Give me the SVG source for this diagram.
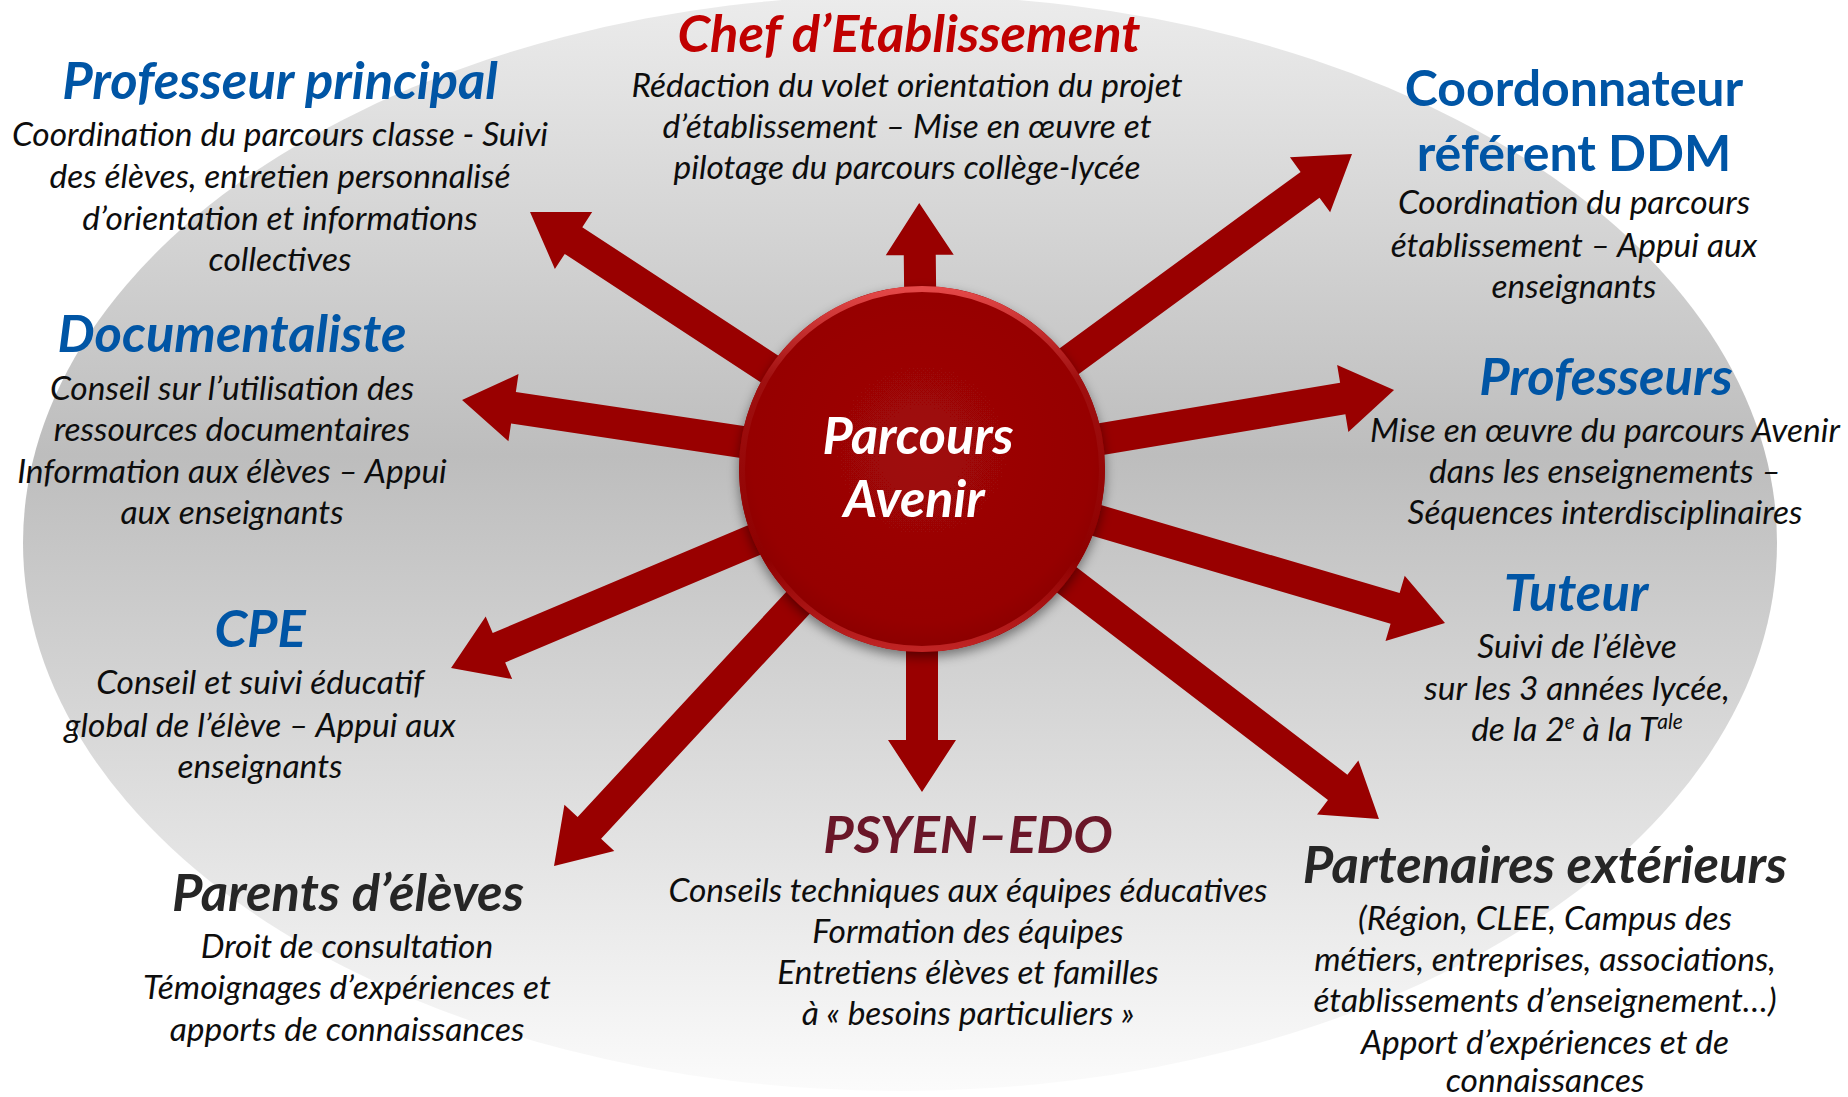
<svg xmlns="http://www.w3.org/2000/svg" width="1848" height="1097" viewBox="0 0 1848 1097">
<defs>
<linearGradient id="bg" x1="0" y1="0" x2="0" y2="1">
<stop offset="0" stop-color="#ececec"/>
<stop offset="0.42" stop-color="#bdbdbd"/>
<stop offset="1" stop-color="#fbfbfb"/>
</linearGradient>
<radialGradient id="disc" cx="0.5" cy="0.45" r="0.55">
<stop offset="0" stop-color="#a00808"/>
<stop offset="0.85" stop-color="#960404"/>
<stop offset="1" stop-color="#8a0000"/>
</radialGradient>
<linearGradient id="rim" x1="0" y1="0" x2="0" y2="1">
<stop offset="0" stop-color="#e44848"/>
<stop offset="0.25" stop-color="#a01010"/>
<stop offset="0.75" stop-color="#8e0000"/>
<stop offset="1" stop-color="#c02424"/>
</linearGradient>
<filter id="sh" x="-20%" y="-20%" width="140%" height="140%">
<feDropShadow dx="0" dy="5" stdDeviation="6" flood-color="#000" flood-opacity="0.45"/>
</filter>
</defs>
<style>
text{font-family:Lato,"Liberation Sans",sans-serif;text-anchor:middle}
.t{font-weight:700;font-style:italic;font-size:52.5px}
.n{font-style:normal;font-size:50px}
.blue{fill:#0055a5}
.red{fill:#c00000}
.dark{fill:#262626}
.wine{fill:#6a1628}
.b{font-style:italic;font-size:33.5px;fill:#0d0d0d}
.arrow{fill:#990000}
.ctr{font-weight:700;font-style:italic;font-size:52px;fill:#ffffff}
</style>
<ellipse cx="900" cy="543" rx="877" ry="548" fill="url(#bg)"/>
<g id="connectors">
<path class="arrow" transform="translate(922,469) rotate(-90.6)" d="M120,-16 H214 V-34 L266,0 L214,34 V16 H120 Z"/>
<path class="arrow" transform="translate(922,469) rotate(-36.22)" d="M120,-16 H481 V-34 L533,0 L481,34 V16 H120 Z"/>
<path class="arrow" transform="translate(922,469) rotate(-9.5)" d="M120,-16 H426.6 V-34 L478.6,0 L426.6,34 V16 H120 Z"/>
<path class="arrow" transform="translate(922,469) rotate(16.41)" d="M120,-16 H493.2 V-34 L545.2,0 L493.2,34 V16 H120 Z"/>
<path class="arrow" transform="translate(922,469) rotate(37.45)" d="M120,-16 H523.6 V-34 L575.6,0 L523.6,34 V16 H120 Z"/>
<path class="arrow" transform="translate(922,469) rotate(90)" d="M120,-16 H271 V-34 L323,0 L271,34 V16 H120 Z"/>
<path class="arrow" transform="translate(922,469) rotate(132.83)" d="M120,-16 H489.3 V-34 L541.3,0 L489.3,34 V16 H120 Z"/>
<path class="arrow" transform="translate(922,469) rotate(157.09)" d="M120,-16 H459.3 V-34 L511.3,0 L459.3,34 V16 H120 Z"/>
<path class="arrow" transform="translate(922,469) rotate(-171.47)" d="M120,-16 H413.1 V-34 L465.1,0 L413.1,34 V16 H120 Z"/>
<path class="arrow" transform="translate(922,469) rotate(-146.75)" d="M120,-16 H416.7 V-34 L468.7,0 L416.7,34 V16 H120 Z"/>
</g>
<g id="center">
<circle cx="922" cy="469" r="183" fill="url(#disc)" filter="url(#sh)"/>
<circle cx="922" cy="469" r="180" fill="none" stroke="url(#rim)" stroke-width="6"/>
<text class="ctr" x="918" y="454">Parcours</text>
<text class="ctr" x="914" y="517">Avenir</text>
</g>
<g id="chef">
<text class="t red" x="909" y="52">Chef d’Etablissement</text>
<text class="b" x="907" y="97">Rédaction du volet orientation du projet</text>
<text class="b" x="907" y="138">d’établissement – Mise en œuvre et</text>
<text class="b" x="907" y="179">pilotage du parcours collège-lycée</text>
</g>
<g id="prof-principal">
<text class="t blue" x="280" y="99">Professeur principal</text>
<text class="b" x="280" y="146">Coordination du parcours classe - Suivi</text>
<text class="b" x="280" y="188">des élèves, entretien personnalisé</text>
<text class="b" x="280" y="230">d’orientation et informations</text>
<text class="b" x="280" y="271">collectives</text>
</g>
<g id="coordonnateur">
<text class="t n blue" x="1574" y="106">Coordonnateur</text>
<text class="t n blue" x="1574" y="171">référent DDM</text>
<text class="b" x="1574" y="214">Coordination du parcours</text>
<text class="b" x="1574" y="257">établissement – Appui aux</text>
<text class="b" x="1574" y="298">enseignants</text>
</g>
<g id="documentaliste">
<text class="t blue" x="232" y="352">Documentaliste</text>
<text class="b" x="232" y="400">Conseil sur l’utilisation des</text>
<text class="b" x="232" y="441">ressources documentaires</text>
<text class="b" x="232" y="483">Information aux élèves – Appui</text>
<text class="b" x="232" y="524">aux enseignants</text>
</g>
<g id="professeurs">
<text class="t blue" x="1606" y="395">Professeurs</text>
<text class="b" x="1605" y="442">Mise en œuvre du parcours Avenir</text>
<text class="b" x="1605" y="483">dans les enseignements –</text>
<text class="b" x="1605" y="524">Séquences interdisciplinaires</text>
</g>
<g id="cpe">
<text class="t blue" x="260" y="647">CPE</text>
<text class="b" x="260" y="694">Conseil et suivi éducatif</text>
<text class="b" x="260" y="737">global de l’élève – Appui aux</text>
<text class="b" x="260" y="778">enseignants</text>
</g>
<g id="tuteur">
<text class="t blue" x="1576" y="611">Tuteur</text>
<text class="b" x="1577" y="658">Suivi de l’élève</text>
<text class="b" x="1577" y="700">sur les 3 années lycée,</text>
<text class="b" x="1577" y="741">de la 2<tspan font-size="21" baseline-shift="super">e</tspan> à la T<tspan font-size="21" baseline-shift="super">ale</tspan></text>
</g>
<g id="parents">
<text class="t dark" x="348" y="911">Parents d’élèves</text>
<text class="b" x="347" y="958">Droit de consultation</text>
<text class="b" x="347" y="999">Témoignages d’expériences et</text>
<text class="b" x="347" y="1041">apports de connaissances</text>
</g>
<g id="psyen">
<text class="t wine" x="968" y="853">PSYEN–EDO</text>
<text class="b" x="968" y="902">Conseils techniques aux équipes éducatives</text>
<text class="b" x="968" y="943">Formation des équipes</text>
<text class="b" x="968" y="984">Entretiens élèves et familles</text>
<text class="b" x="968" y="1025">à « besoins particuliers »</text>
</g>
<g id="partenaires">
<text class="t dark" x="1545" y="883">Partenaires extérieurs</text>
<text class="b" x="1545" y="930">(Région, CLEE, Campus des</text>
<text class="b" x="1545" y="971">métiers, entreprises, associations,</text>
<text class="b" x="1545" y="1012">établissements d’enseignement…)</text>
<text class="b" x="1545" y="1054">Apport d’expériences et de</text>
<text class="b" x="1545" y="1092">connaissances</text>
</g>
</svg>
